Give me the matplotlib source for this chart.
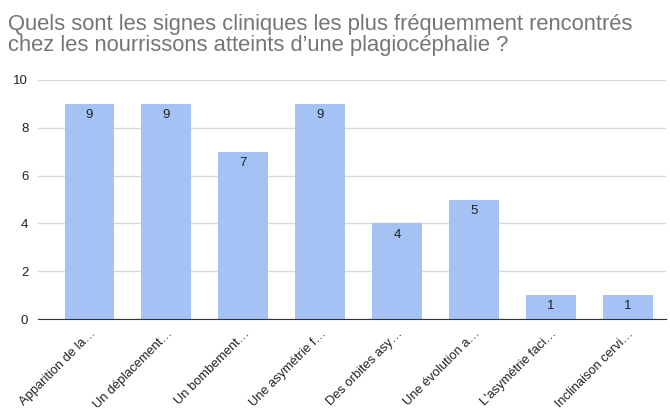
import matplotlib
matplotlib.use("Agg")
import matplotlib.pyplot as plt

# Signes cliniques observés
categories = [
    "Apparition de la…", "Un déplacement…", "Un bombement…", "Une asymétrie f…",
    "Des orbites asy…", "Une évolution a…", "L'asymétrie faci…", "Inclinaison cervi…",
]
counts = [9, 9, 7, 9, 4, 5, 1, 1]
yticks = [0, 2, 4, 6, 8, 10]

BAR = "#a4c2f4"
GRID = "#d9d9d9"
TEXT = "#222222"

plt.rcParams["font.family"] = ["Liberation Sans", "DejaVu Sans"]

fig = plt.figure(figsize=(6.7, 4.09), dpi=100)
ax = fig.add_axes([38 / 670, 1 - 319 / 409, 628 / 670, 239 / 409])

x = range(len(categories))
bars = ax.bar(x, counts, width=0.65, color=BAR, zorder=3)
for b, v in zip(bars, counts):
    ax.text(b.get_x() + b.get_width() / 2, v - 0.22, str(v),
            ha="center", va="top", fontsize=9.5, color=TEXT, zorder=4)

ax.set_xlim(-0.67, 7.5)
ax.set_ylim(0, 10)
ax.set_yticks(yticks)
ax.set_yticklabels([str(t) for t in yticks], fontsize=9.5, color=TEXT)
ax.yaxis.grid(True, color=GRID, linewidth=1, zorder=0)
ax.tick_params(axis="y", length=0, pad=7)
ax.tick_params(axis="x", length=0, pad=6)
ax.set_xticks(list(x))
ax.set_xticklabels(categories, rotation=45, ha="right", va="top",
                   rotation_mode="anchor", fontsize=9.3, color=TEXT)
for s in ["top", "right", "left"]:
    ax.spines[s].set_visible(False)
ax.spines["bottom"].set_color("#333333")
ax.spines["bottom"].set_zorder(5)

fig.text(8 / 670, 1 - 14 / 409,
         "Quels sont les signes cliniques les plus fréquemment rencontrés\n"
         "chez les nourrissons atteints d\u2019une plagiocéphalie ?",
         ha="left", va="top", fontsize=15.8, color="#757575", linespacing=1.0)

fig.savefig("out.png", dpi=100)
